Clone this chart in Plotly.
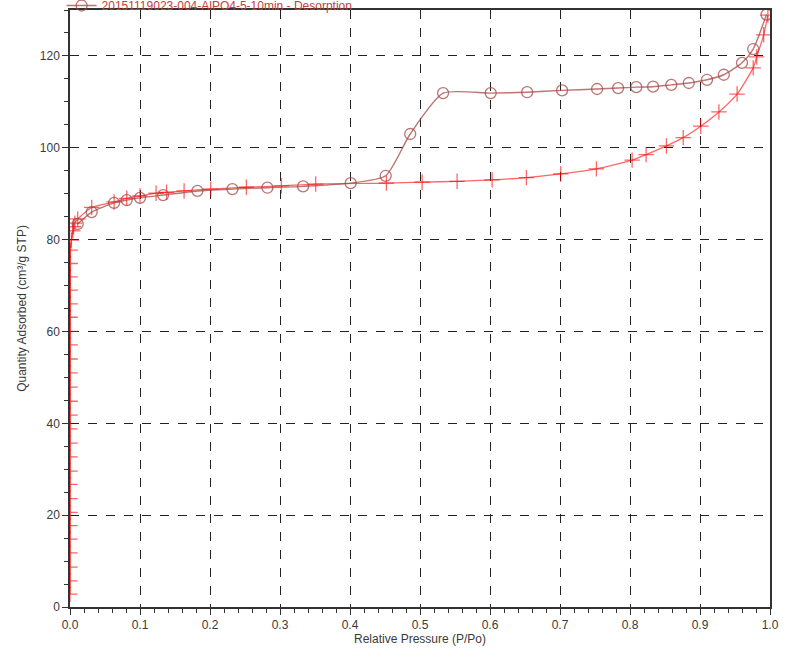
import plotly.graph_objects as go

# Isotherm data
ads_p = [0.00002, 0.00003, 0.00004, 0.00005, 0.00006, 0.00007, 0.00008, 0.00009,
         0.0001, 0.00011, 0.00012, 0.00013, 0.00014, 0.00015, 0.00016, 0.00017,
         0.00018, 0.0002, 0.00022, 0.00024, 0.00026, 0.00028, 0.0003, 0.00033,
         0.00036, 0.0004, 0.002, 0.004, 0.005, 0.007, 0.011,
         0.031, 0.063, 0.081, 0.1, 0.123, 0.138, 0.163, 0.201, 0.252, 0.302,
         0.351, 0.452, 0.503, 0.553, 0.603, 0.652, 0.701, 0.752, 0.803, 0.823,
         0.852, 0.876, 0.901, 0.927, 0.953, 0.976, 0.981, 0.991, 0.997]
ads_q = [2.8, 5.7, 8.7, 11.8, 14.8, 17.7, 20.6, 23.6,
         26.7, 29.6, 32.7, 35.7, 38.8, 41.8, 44.8, 47.9,
         51.0, 54.0, 57.1, 60.0, 63.1, 66.0, 69.0, 71.9,
         74.8, 77.7, 79.9, 81.9, 82.8, 83.6, 84.5,
         87.0, 88.2, 89.0, 89.5, 90.1, 90.3, 90.6, 91.0, 91.4, 91.7,
         92.1, 92.3, 92.5, 92.7, 93.0, 93.5, 94.3, 95.4, 97.3, 98.5,
         100.4, 102.2, 104.7, 107.8, 111.7, 117.4, 119.8, 124.6, 128.9]

des_p = [0.995, 0.976, 0.96, 0.934, 0.91, 0.884, 0.859, 0.833, 0.809, 0.783,
         0.753, 0.703, 0.653, 0.601, 0.533, 0.486, 0.451, 0.401, 0.333, 0.282,
         0.232, 0.182, 0.133, 0.1, 0.081, 0.063, 0.031, 0.011]
des_q = [129.0, 121.5, 118.5, 115.9, 114.8, 114.1, 113.7, 113.3, 113.2, 113.0,
         112.8, 112.5, 112.1, 111.9, 111.9, 103.0, 93.9, 92.3, 91.6, 91.3,
         91.0, 90.6, 89.7, 89.1, 88.6, 88.0, 86.0, 83.4]

sample = "20151119023-004-AlPO4-5-10min"
x_ticks = [0.0, 0.1, 0.2, 0.3, 0.4, 0.5, 0.6, 0.7, 0.8, 0.9, 1.0]
y_ticks = [0, 20, 40, 60, 80, 100, 120]

FONT = "Liberation Sans, Arial, sans-serif"
TEXT_GREY = "#3a3a3a"

fig = go.Figure()

fig.add_trace(go.Scatter(
    x=ads_p, y=ads_q,
    name=f"{sample} - Adsorption",
    showlegend=False,
    mode="lines+markers",
    line=dict(color="rgba(255,0,0,0.6)", width=1.3, shape="spline", smoothing=0.6),
    marker=dict(symbol="cross-thin-open", size=11,
                line=dict(color="rgb(255,0,0)", width=1.3)),
))

fig.add_trace(go.Scatter(
    x=des_p, y=des_q,
    name=f"{sample} - Desorption",
    mode="lines+markers",
    line=dict(color="rgba(165,70,70,0.75)", width=1.4, shape="spline", smoothing=0.6),
    marker=dict(symbol="circle-open", size=11,
                line=dict(color="rgba(180,90,90,0.75)", width=1.3)),
))

fig.update_layout(
    width=800, height=657,
    margin=dict(l=70, r=30, t=10, b=50, autoexpand=False),
    plot_bgcolor="white",
    paper_bgcolor="white",
    font=dict(family=FONT, size=12, color=TEXT_GREY),
    showlegend=True,
    legend=dict(
        x=-0.012, y=1.0075, xanchor="left", yanchor="middle",
        font=dict(family=FONT, size=12, color="#c83c3c"),
        bgcolor="rgba(0,0,0,0)",
        itemwidth=30,
    ),
    xaxis=dict(
        range=[0, 1],
        tickvals=x_ticks,
        ticktext=[f"{v:.1f}" for v in x_ticks],
        ticks="outside", ticklen=6, tickcolor="#333",
        minor=dict(dtick=0.02, ticks="outside", ticklen=4, tickcolor="#333", showgrid=False),
        showline=True, linecolor="#333", linewidth=1.5, mirror=True,
        showgrid=True, gridcolor="#222", griddash="dash", gridwidth=1,
        zeroline=False,
        title=dict(text="Relative Pressure (P/Po)", standoff=1,
                   font=dict(family=FONT, size=12, color=TEXT_GREY)),
    ),
    yaxis=dict(
        range=[0, 130],
        tickvals=y_ticks,
        ticks="outside", ticklen=6, tickcolor="#333",
        minor=dict(dtick=5, ticks="outside", ticklen=4, tickcolor="#333", showgrid=False),
        showline=True, linecolor="#333", linewidth=1.5, mirror=True,
        showgrid=True, gridcolor="#222", griddash="dash", gridwidth=1,
        zeroline=False,
        title=dict(text="Quantity Adsorbed (cm³/g STP)", standoff=11,
                   font=dict(family=FONT, size=12, color=TEXT_GREY)),
    ),
)

# drop the browser's default 8px body margin so the figure sits at the page corner
fig.write_html("out.html", config={"displayModeBar": False},
               post_script="document.body.style.margin='0';")
